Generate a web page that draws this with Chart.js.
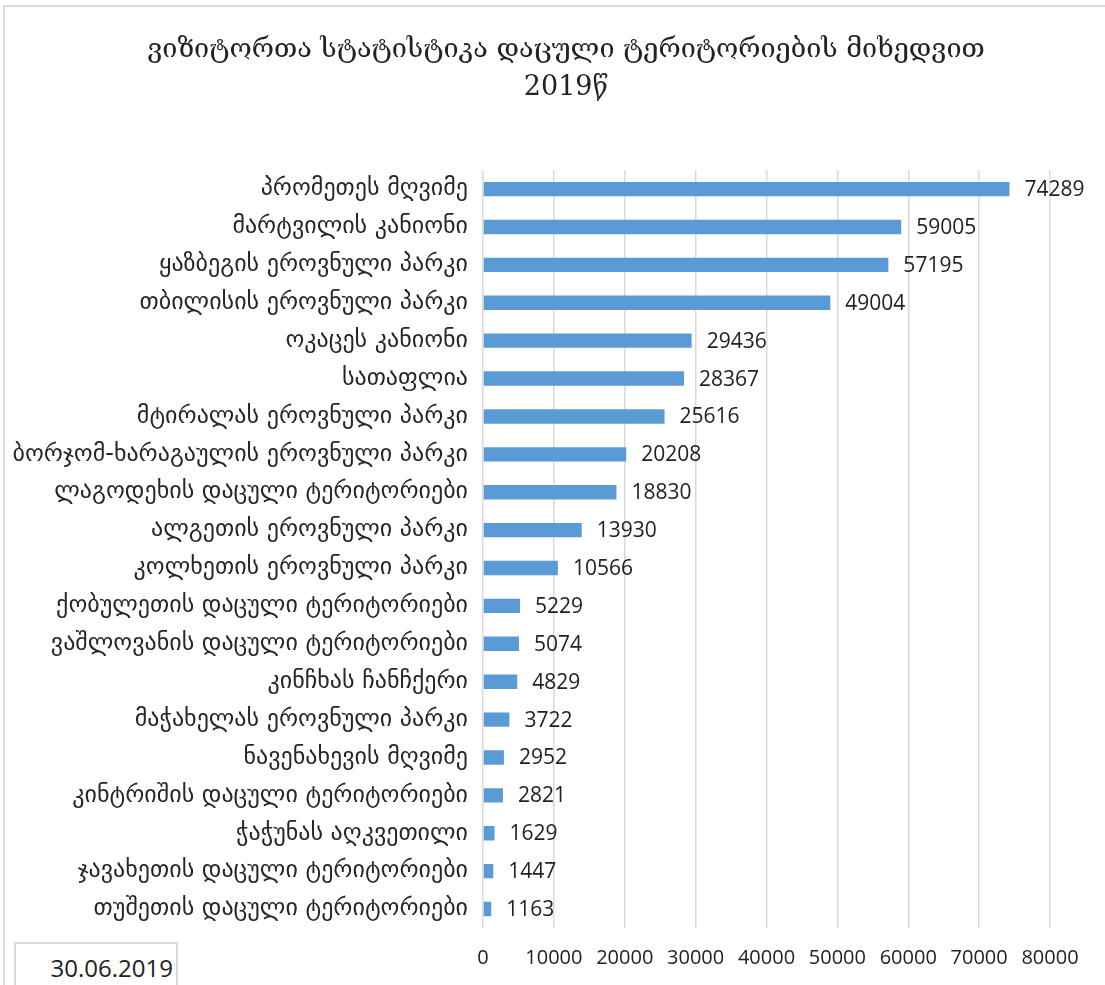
<!DOCTYPE html>
<html>
<head>
<meta charset="utf-8">
<script src="https://cdn.jsdelivr.net/npm/chart.js@4/dist/chart.umd.min.js"></script>
<style>
  html, body { margin: 0; padding: 0; background: #fff; }
  #wrap { position: relative; width: 1105px; height: 985px; overflow: hidden; }
  #frame { position: absolute; left: 3px; top: 5px; width: 1200px; height: 1200px;
           border-left: 2px solid #d9d9d9; border-top: 2px solid #d9d9d9; box-sizing: border-box; }
  #c { position: absolute; left: 0; top: 0; }
  #date { position: absolute; left: 14px; top: 942px; width: 164px; height: 60px;
          border: 2px solid #d9d9d9; box-sizing: border-box; background: #fff;
          font-family: "Open Sans", sans-serif; font-size: 24px; color: #222;
          text-align: right; padding: 7px 3px 0 0; }
</style>
</head>
<body>
<div id="wrap">
  <div id="frame"></div>
  <canvas id="c" width="1105" height="985"></canvas>
  <div id="date">30.06.2019</div>
</div>
<script>
const categories = [
  "პრომეთეს მღვიმე",
  "მარტვილის კანიონი",
  "ყაზბეგის ეროვნული პარკი",
  "თბილისის ეროვნული პარკი",
  "ოკაცეს კანიონი",
  "სათაფლია",
  "მტირალას ეროვნული პარკი",
  "ბორჯომ-ხარაგაულის ეროვნული პარკი",
  "ლაგოდეხის დაცული ტერიტორიები",
  "ალგეთის ეროვნული პარკი",
  "კოლხეთის ეროვნული პარკი",
  "ქობულეთის დაცული ტერიტორიები",
  "ვაშლოვანის დაცული ტერიტორიები",
  "კინჩხას ჩანჩქერი",
  "მაჭახელას ეროვნული პარკი",
  "ნავენახევის მღვიმე",
  "კინტრიშის დაცული ტერიტორიები",
  "ჭაჭუნას აღკვეთილი",
  "ჯავახეთის დაცული ტერიტორიები",
  "თუშეთის დაცული ტერიტორიები"
];
const visitors = [74289, 59005, 57195, 49004, 29436, 28367, 25616, 20208, 18830, 13930,
                  10566, 5229, 5074, 4829, 3722, 2952, 2821, 1629, 1447, 1163];
const xTicks = [0, 10000, 20000, 30000, 40000, 50000, 60000, 70000, 80000];
const titleLines = ["ვიზიტორთა სტატისტიკა დაცული ტერიტორიების მიხედვით", "2019წ"];

const valueLabels = {
  id: 'valueLabels',
  afterDatasetsDraw(chart) {
    const ctx = chart.ctx;
    const meta = chart.getDatasetMeta(0);
    ctx.save();
    ctx.font = '21px "Open Sans", sans-serif';
    ctx.fillStyle = '#222';
    ctx.textAlign = 'left';
    ctx.textBaseline = 'middle';
    meta.data.forEach((bar, i) => {
      ctx.fillText(String(visitors[i]), bar.x + 15, bar.y + 1);
    });
    ctx.restore();
  }
};

const shiftTitle = {
  id: 'shiftTitle',
  afterLayout(chart) {
    const t = chart.titleBlock;
    if (t) { t.left += 36; t.right += 36; }
  }
};

new Chart(document.getElementById('c'), {
  type: 'bar',
  data: {
    labels: categories,
    datasets: [{
      data: visitors,
      backgroundColor: '#5b9bd5',
      borderWidth: 0,
      categoryPercentage: 1,
      barPercentage: 0.38
    }]
  },
  plugins: [valueLabels, shiftTitle],
  options: {
    indexAxis: 'y',
    responsive: false,
    animation: false,
    layout: { padding: { left: 10, right: 55, top: 0, bottom: 0 } },
    plugins: {
      legend: { display: false },
      tooltip: { enabled: false },
      title: {
        display: true,
        text: titleLines,
        color: '#222',
        font: { family: '"DejaVu Serif", serif', size: 27, weight: 'normal', lineHeight: 1.41 },
        padding: { top: 31, bottom: 63 }
      }
    },
    scales: {
      x: {
        type: 'linear',
        min: 0, max: 80000,
        afterBuildTicks(scale) { scale.ticks = xTicks.map(v => ({ value: v })); },
        afterFit(scale) { scale.height = 57; },
        grid: { color: '#d9d9d9', lineWidth: 1.5, drawTicks: false },
        border: { display: false },
        ticks: {
          padding: 18,
          color: '#222',
          callback: (v) => String(v),
          font: { family: '"Open Sans", sans-serif', size: 20 }
        }
      },
      y: {
        afterFit(scale) { scale.width = 483 - 10; },
        grid: { display: false, drawTicks: false },
        border: { display: false },
        ticks: {
          padding: 15,
          autoSkip: false,
          color: '#262626',
          font: { family: '"DejaVu Sans", sans-serif', size: 24 }
        }
      }
    }
  }
});
</script>
</body>
</html>
